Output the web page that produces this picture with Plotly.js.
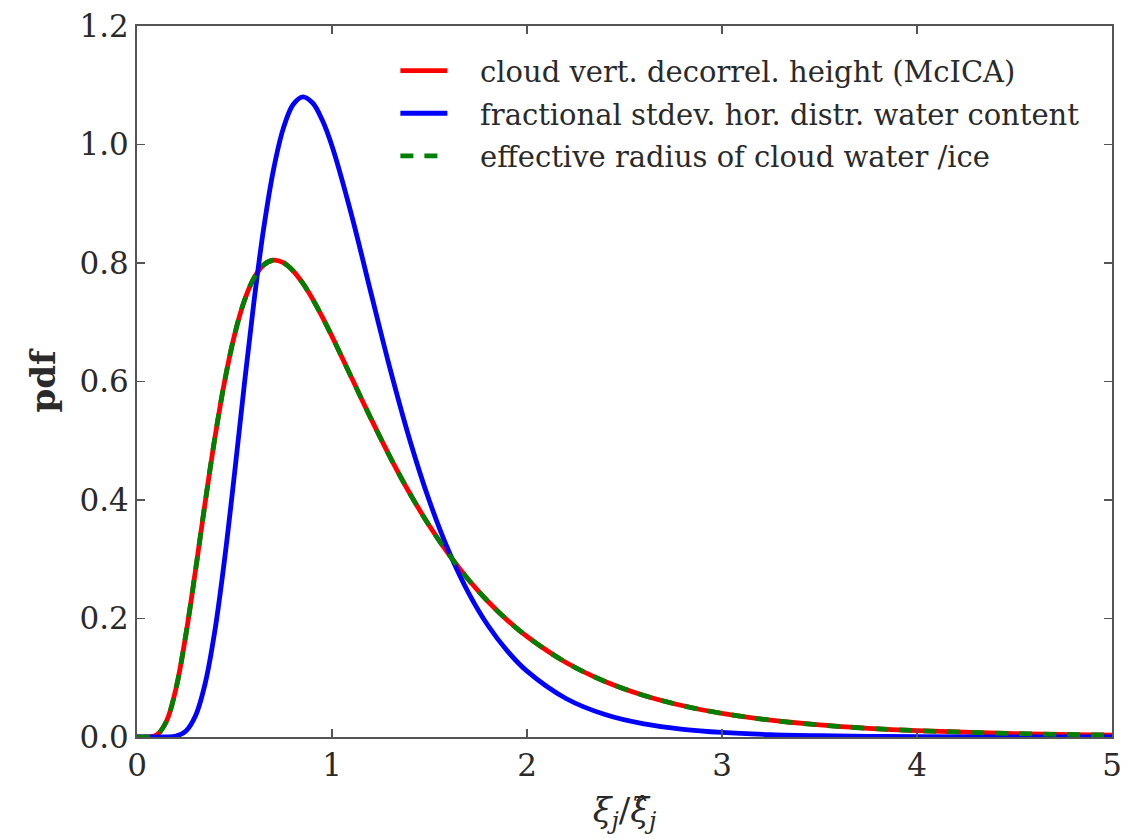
<!DOCTYPE html>
<html>
<head>
<meta charset="utf-8">
<script src="https://cdn.plot.ly/plotly-3.0.1.min.js"></script>
<style>body{margin:0;padding:0;background:#fff}#chart{width:1133px;height:839px}</style>
</head>
<body>
<div id="chart"></div>
<script>
var xVals = [0, 0.05, 0.1, 0.15, 0.2, 0.25, 0.3, 0.35, 0.4, 0.45, 0.5, 0.55, 0.6, 0.65, 0.7, 0.75, 0.8, 0.85, 0.9, 0.95, 1.0, 1.1, 1.2, 1.3, 1.4, 1.5, 1.6, 1.7, 1.8, 1.9, 2.0, 2.2, 2.4, 2.6, 2.8, 3.0, 3.25, 3.5, 3.75, 4.0, 4.5, 5.0];
var decorrHeight = [0, 0.0000, 0.0033, 0.0257, 0.0819, 0.1713, 0.2811, 0.3968, 0.5061, 0.6014, 0.6782, 0.7358, 0.7747, 0.7969, 0.8047, 0.8005, 0.7870, 0.7659, 0.7395, 0.7091, 0.6762, 0.6067, 0.5373, 0.4712, 0.4105, 0.3560, 0.3077, 0.2654, 0.2287, 0.1969, 0.1696, 0.1258, 0.0937, 0.0701, 0.0527, 0.0398, 0.0283, 0.0203, 0.0147, 0.0107, 0.0058, 0.0033];
var fracStdev = [0, 0, 0, 0.0001, 0.0015, 0.0098, 0.0358, 0.0910, 0.1808, 0.3023, 0.4444, 0.5936, 0.7356, 0.8592, 0.9575, 1.0268, 1.0671, 1.0805, 1.0704, 1.0413, 0.9974, 0.8813, 0.7491, 0.6188, 0.5001, 0.3978, 0.3126, 0.2434, 0.1882, 0.1449, 0.1111, 0.0650, 0.0379, 0.0221, 0.0130, 0.0077, 0.0040, 0.0021, 0.0011, 0.0006, 0.0002, 0.0001];
var effRadius = [0, 0.0000, 0.0033, 0.0257, 0.0819, 0.1713, 0.2811, 0.3968, 0.5061, 0.6014, 0.6782, 0.7358, 0.7747, 0.7969, 0.8047, 0.8005, 0.7870, 0.7659, 0.7395, 0.7091, 0.6762, 0.6067, 0.5373, 0.4712, 0.4105, 0.3560, 0.3077, 0.2654, 0.2287, 0.1969, 0.1696, 0.1258, 0.0937, 0.0701, 0.0527, 0.0398, 0.0283, 0.0203, 0.0147, 0.0107, 0.0058, 0.0033];
var seriesNames = ["cloud vert. decorrel. height (McICA)", "fractional stdev. hor. distr. water content", "effective radius of cloud water /ice"];
var xTicks = [0, 1, 2, 3, 4, 5];
var yTicks = [0, 0.2, 0.4, 0.6, 0.8, 1.0, 1.2];
var yTickText = ["0.0", "0.2", "0.4", "0.6", "0.8", "1.0", "1.2"];

var serif = "DejaVu Serif, Liberation Serif, serif";
var pad = "\u00a0\u00a0\u00a0";
var traces = [
  {x: xVals, y: decorrHeight, name: pad + seriesNames[0], mode: "lines", legendgroup: "a",
   line: {color: "#ff0000", width: 4.8, shape: "spline", smoothing: 1}},
  {x: xVals, y: fracStdev, name: pad + seriesNames[1], mode: "lines", legendgroup: "b",
   line: {color: "#0000ff", width: 4.8, shape: "spline", smoothing: 1}},
  {x: xVals, y: effRadius, name: pad + seriesNames[2], mode: "lines", legendgroup: "c",
   line: {color: "#008000", width: 4.8, dash: "13px,11px", shape: "spline", smoothing: 1}}
];
var axisCommon = {
  showgrid: false, zeroline: false, showline: true, linecolor: "#555", linewidth: 2,
  mirror: "ticks", ticks: "inside", ticklen: 8, tickwidth: 1.5, tickcolor: "#555",
  tickfont: {family: serif, size: 31, color: "#2a2a2a"}
};
var layout = {
  width: 1133, height: 839,
  margin: {l: 137, r: 21, t: 26, b: 102, pad: 0},
  paper_bgcolor: "#fff", plot_bgcolor: "#fff",
  showlegend: true,
  legend: {x: 0.265, y: 0.973, xanchor: "left", yanchor: "top", bgcolor: "rgba(0,0,0,0)",
           font: {family: serif, size: 29, color: "#2a2a2a"}, tracegroupgap: 2, itemwidth: 47},
  xaxis: Object.assign({}, axisCommon, {range: [0, 5], tickvals: xTicks, ticktext: xTicks.map(String),
    title: {text: "<i>ξ<sub>j</sub></i>/<i>ξ̂<sub>j</sub></i>", font: {family: serif, size: 34, color: "#2a2a2a"}, standoff: 16}}),
  yaxis: Object.assign({}, axisCommon, {range: [0, 1.2], tickvals: yTicks, ticktext: yTickText,
    title: {text: "<b>pdf</b>", font: {family: serif, size: 34, color: "#2a2a2a"}, standoff: 14}})
};
Plotly.newPlot("chart", traces, layout, {displayModeBar: false, staticPlot: true});
</script>
</body>
</html>
